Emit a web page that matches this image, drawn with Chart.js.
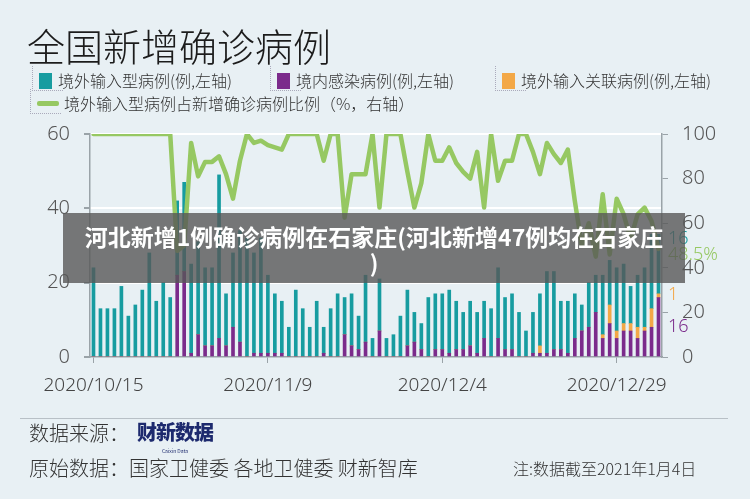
<!DOCTYPE html>
<html>
<head>
<meta charset="utf-8">
<script src="https://cdn.jsdelivr.net/npm/chart.js@4.4.1/dist/chart.umd.min.js"></script>
<style>
  body { margin: 0; background: #e8f0f4; font-family: "Noto Sans CJK SC", "Noto Sans", sans-serif; }
  #wrap { position: relative; width: 750px; height: 499px; overflow: hidden; background: #e8f0f4; }
  #chart { position: absolute; left: 0; top: 0; }
  .title { position: absolute; left: 27px; top: 17px; font-size: 38px; color: #1c1c1c; font-weight: 300; }
  .lg { position: absolute; font-size: 16px; color: #333; line-height: 20px; white-space: nowrap; font-weight: 300; }
  .lg .sw { display: inline-block; width: 13px; height: 16px; vertical-align: -2px; margin-right: 6px; }
  .lg .ln { display: inline-block; width: 22px; height: 5px; vertical-align: 4px; margin-right: 5px; background: #96c862; border-radius: 2px; }
  .lg .box { position: absolute; border-left: 1px dotted #aab; border-bottom: 1px dotted #aab; width: 30px; height: 24px; left: -7px; top: -4px; }
  .banner { position: absolute; left: 63px; top: 213px; width: 622px; height: 70px; background: rgba(88,88,88,0.8);
            color: #fff; font-weight: bold; font-size: 23px; line-height: 26px; text-align: center; padding-top: 10px; box-sizing: border-box; white-space: nowrap; }
  .foot { position: absolute; color: #333; font-size: 20px; white-space: nowrap; font-weight: 300; }
  .rule { position: absolute; left: 20px; top: 418px; width: 708px; height: 1px; background: #b8c0c6; }
  .logo { position: absolute; left: 137px; top: 417px; color: #1d2a6e; font-weight: 900; font-size: 20px; letter-spacing: -1px; }
  .logo small { display: block; font-size: 5px; text-align: center; font-weight: normal; letter-spacing: 0; line-height: 5px; margin-top: 2px; }
</style>
</head>
<body>
<div id="wrap">
  <canvas id="chart" width="750" height="499"></canvas>
  <div class="title">全国新增确诊病例</div>

  <div class="lg" style="left:39px; top:70px;"><span class="box"></span><span class="sw" style="background:#179ca0"></span>境外输入型病例(例,左轴)</div>
  <div class="lg" style="left:277px; top:70px;"><span class="box"></span><span class="sw" style="background:#7b2b8b"></span>境内感染病例(例,左轴)</div>
  <div class="lg" style="left:502px; top:70px;"><span class="box"></span><span class="sw" style="background:#f3a847"></span>境外输入关联病例(例,左轴)</div>
  <div class="lg" style="left:37px; top:93px;"><span class="box"></span><span class="ln"></span>境外输入型病例占新增确诊病例比例（%，右轴）</div>

  <div class="banner">河北新增1例确诊病例在石家庄(河北新增47例均在石家庄<br>)</div>

  <div class="rule"></div>
  <div class="foot" style="left:29px; top:418px;">数据来源：</div>
  <div class="logo">财新数据<small>Caixin Data</small></div>
  <div class="foot" style="left:29px; top:453px;">原始数据：国家卫健委 各地卫健委 财新智库</div>
  <div class="foot" style="left:513px; top:456px; font-size:16px;">注:数据截至2021年1月4日</div>
</div>

<script>
const dates = [
  '2020/10/15','2020/10/16','2020/10/17','2020/10/18','2020/10/19','2020/10/20','2020/10/21','2020/10/22','2020/10/23','2020/10/24',
  '2020/10/25','2020/10/26','2020/10/27','2020/10/28','2020/10/29','2020/10/30','2020/10/31',
  '2020/11/1','2020/11/2','2020/11/3','2020/11/4','2020/11/5','2020/11/6','2020/11/7','2020/11/8','2020/11/9','2020/11/10',
  '2020/11/11','2020/11/12','2020/11/13','2020/11/14','2020/11/15','2020/11/16','2020/11/17','2020/11/18','2020/11/19','2020/11/20',
  '2020/11/21','2020/11/22','2020/11/23','2020/11/24','2020/11/25','2020/11/26','2020/11/27','2020/11/28','2020/11/29','2020/11/30',
  '2020/12/1','2020/12/2','2020/12/3','2020/12/4','2020/12/5','2020/12/6','2020/12/7','2020/12/8','2020/12/9','2020/12/10',
  '2020/12/11','2020/12/12','2020/12/13','2020/12/14','2020/12/15','2020/12/16','2020/12/17','2020/12/18','2020/12/19','2020/12/20',
  '2020/12/21','2020/12/22','2020/12/23','2020/12/24','2020/12/25','2020/12/26','2020/12/27','2020/12/28','2020/12/29','2020/12/30',
  '2020/12/31','2021/1/1','2021/1/2','2021/1/3','2021/1/4'
];
const shownDates = ['2020/10/15', '2020/11/9', '2020/12/4', '2020/12/29'];

// 境外输入型病例
const imported = [
  24,13,13,13,19,11,14,18,28,15,20,16,
  20,24,24,25,21,21,44,14,20,
  30,32,27,31,21,16,14,
  8,18,13,8,15,7,13,17,
  10,14,9,18,5,14,5,6,11,
  15,8,7,16,15,15,17,13,10,12,11,10,
  13,19,14,15,12,7,11,
  14,22,21,13,14,12,7,12,10,
  16,12,17,16,10,14,16,20,16
];
// 境内感染病例
const local = [
  0,0,0,0,0,0,0,0,0,0,0,0,
  22,23,1,6,3,3,5,3,8,
  4,0,1,1,1,1,1,
  0,0,0,0,0,1,0,0,
  6,3,2,4,0,7,0,0,0,
  3,4,2,0,2,2,1,2,2,3,1,5,
  0,5,2,2,0,0,1,
  1,1,2,2,1,5,7,8,12,
  5,9,5,7,7,5,7,8,16
];
// 境外输入关联病例
const linked = [
  0,0,0,0,0,0,0,0,0,0,0,0,
  0,0,0,0,0,0,0,0,0,
  0,0,0,0,0,0,0,
  0,0,0,0,0,0,0,0,
  0,0,0,0,0,0,0,0,0,
  0,0,0,0,0,0,0,0,0,0,0,0,
  0,0,0,0,0,0,0,
  2,0,0,0,0,0,0,0,0,
  1,5,2,2,2,3,1,5,1
];
// 境外输入型病例占比 (%)
const ratio = [
  100,100,100,100,100,100,100,100,100,100,100,100,
  47.6,50,96,81,87.5,87.5,90,82,71,
  88,100,96,97,95,94,93,
  100,100,100,100,100,88,100,100,
  62.5,82,82,82,100,67,100,100,100,
  83,67,78,100,88,88,94,87,83,80,92,67,
  100,79,88,88,100,100,92,
  82,96,91,87,93,70,50,60,45,
  73,46,71,64,53,64,67,61,48.5
];

const TEAL = '#179ca0', PURPLE = '#7b2b8b', ORANGE = '#f3a847', GREEN = '#96c862';
const axisGray = '#9aa3a8';
const tickFont = { family: "'Noto Sans', sans-serif", size: 20, weight: 300 };

// last-day value labels at the right end
const endLabels = {
  id: 'endLabels',
  afterDatasetsDraw(chart) {
    const { ctx, chartArea, scales } = chart;
    const i = dates.length - 1;
    const x = chartArea.right + 6;
    const tot = imported[i] + local[i] + linked[i];
    ctx.save();
    ctx.font = "300 18px 'Noto Sans', sans-serif";
    ctx.textAlign = 'left';
    ctx.textBaseline = 'middle';
    ctx.fillStyle = TEAL;
    ctx.fillText(String(imported[i]), x, scales.y.getPixelForValue(tot) + 5);
    ctx.fillStyle = GREEN;
    ctx.fillText(ratio[i] + '%', x, scales.y1.getPixelForValue(ratio[i]) + 6);
    ctx.fillStyle = ORANGE;
    ctx.fillText(String(linked[i]), x, scales.y.getPixelForValue(local[i] + linked[i]) + 1);
    ctx.fillStyle = PURPLE;
    ctx.fillText(String(local[i]), x, scales.y.getPixelForValue(local[i] / 2));
    ctx.restore();
  }
};

new Chart(document.getElementById('chart').getContext('2d'), {
  type: 'bar',
  data: {
    labels: dates,
    datasets: [
      { type: 'line', label: '境外输入型病例占新增确诊病例比例', data: ratio, yAxisID: 'y1', order: 0,
        borderColor: GREEN, borderWidth: 4.5, pointRadius: 0, tension: 0, borderJoinStyle: 'round', borderCapStyle: 'round' },
      { label: '境内感染病例', data: local, backgroundColor: PURPLE, stack: 's', order: 1, barThickness: 3 },
      { label: '境外输入关联病例', data: linked, backgroundColor: ORANGE, stack: 's', order: 1, barThickness: 3 },
      { label: '境外输入型病例', data: imported, backgroundColor: TEAL, stack: 's', order: 1, barThickness: 3 }
    ]
  },
  options: {
    responsive: false,
    animation: false,
    devicePixelRatio: 1,
    layout: { padding: { top: 134, left: 0, right: 0, bottom: 0 } },
    plugins: { legend: { display: false }, tooltip: { enabled: false } },
    scales: {
      x: {
        stacked: true,
        afterFit: (s) => { s.height = 142; },
        border: { display: true, color: axisGray, width: 1.5 },
        grid: {
          offset: false, drawOnChartArea: false, tickLength: 6,
          tickColor: (c) => shownDates.includes(dates[c.index]) ? axisGray : 'rgba(0,0,0,0)'
        },
        ticks: {
          autoSkip: false, maxRotation: 0, padding: 11, color: '#444',
          font: { family: "'Noto Sans', sans-serif", size: 19, weight: 300 },
          callback: (v, i) => shownDates.includes(dates[i]) ? dates[i] : ''
        }
      },
      y: {
        stacked: true, position: 'left', min: 0, max: 60,
        afterFit: (s) => { s.width = 90; },
        border: { display: true, color: axisGray, width: 1.5 },
        grid: { color: (c) => c.tick.value === 0 ? 'rgba(0,0,0,0)' : '#ffffff', lineWidth: 2, tickColor: axisGray, tickLength: 6 },
        ticks: { stepSize: 20, color: '#555', font: tickFont, padding: 14 }
      },
      y1: {
        position: 'right', min: 0, max: 100,
        afterFit: (s) => { s.width = 88; },
        border: { display: true, color: axisGray, width: 1.5 },
        grid: { drawOnChartArea: false, tickColor: axisGray, tickLength: 6 },
        ticks: { stepSize: 20, color: '#555', font: tickFont, padding: 14 }
      }
    }
  },
  plugins: [endLabels]
});
</script>
</body>
</html>
